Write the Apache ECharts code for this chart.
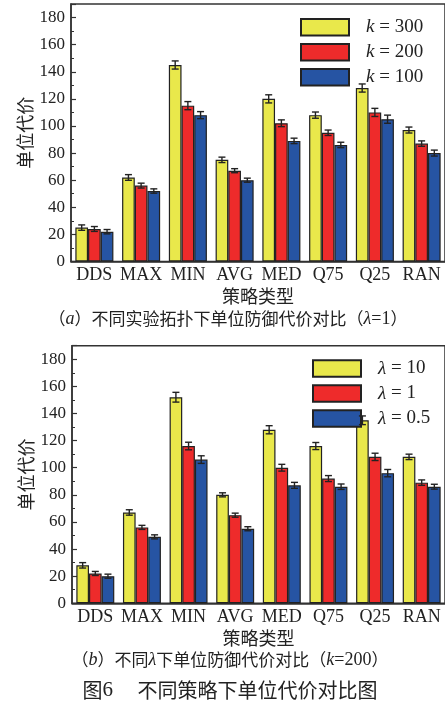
<!DOCTYPE html>
<html><head><meta charset="utf-8">
<script src="https://cdn.jsdelivr.net/npm/echarts@6/dist/echarts.min.js"></script>
<style>html,body{margin:0;padding:0;background:#fff}#c{width:445px;height:703px}</style>
</head><body><div id="c"></div>
<script>
const categories = ['DDS','MAX','MIN','AVG','MED','Q75','Q25','RAN'];
// chart (a): k values
const k300 = [25,62,145,75,120,108,128,97];
const k200 = [24,56,115,67,102,95,110,87];
const k100 = [22,52,108,60,89,86,105,80];
const k300Err = [2,2.1,3,2,3,2.3,3,2.2];
const k200Err = [1.8,1.8,3,1.5,2.5,2,3,2];
const k100Err = [1.6,1.6,2.6,1.5,2,2,3,2.2];
// chart (b): lambda values
const lam10 = [28,67,152,80,128,116,135,108];
const lam1 = [22,56,116,65,100,92,108,89];
const lam05 = [20,49,106,55,87,86,96,86];
const lam10Err = [2,2,3.6,1.5,3,2.6,3.2,2];
const lam1Err = [1.5,1.5,2.8,1.5,2.5,2.2,2.7,2];
const lam05Err = [1.5,1.5,2.8,1.5,2.2,2,2.7,1.8];
const yTicks = [0,20,40,60,80,100,120,140,160,180];

const COLORS = ['#E9E84B','#EE2B2B','#2654A3'];
const SERIF = '"Liberation Serif","Times New Roman",serif';
const CJK = '"Noto Sans CJK SC",sans-serif';
const GAP = 0.186;

const chart = echarts.init(document.getElementById('c'));

function yAxis(gi){
  return {
    type:'value', gridIndex:gi, min:0, max:190, interval:20,
    name:'单位代价', nameLocation:'middle', nameGap:37, nameMoveOverlap:false,
    nameTextStyle:{fontFamily:CJK, fontSize:18, color:'#222'},
    axisLine:{show:true, lineStyle:{color:'#333', width:1.5}},
    axisTick:{show:true, inside:true, length:5, lineStyle:{color:'#333', width:1.2}},
    minorTick:{show:true, splitNumber:2, length:3, lineStyle:{color:'#333', width:1}},
    splitLine:{show:false},
    axisLabel:{fontFamily:SERIF, fontSize:17, color:'#222', margin:6, showMaxLabel:false,
      formatter:v=> yTicks.includes(v) ? String(v) : ''}
  };
}
function xAxis(gi){
  return {
    type:'category', gridIndex:gi, data:categories,
    name:'策略类型', nameLocation:'middle', nameGap:26, nameMoveOverlap:false,
    nameTextStyle:{fontFamily:CJK, fontSize:18, color:'#222'},
    axisLine:{show:true, lineStyle:{color:'#333', width:1.5}},
    axisTick:{show:false},
    axisLabel:{fontFamily:SERIF, fontSize:18, color:'#222', margin:5, interval:0}
  };
}
function barSeries(name, data, ci, gi){
  return {
    type:'bar', name, data, xAxisIndex:gi, yAxisIndex:gi,
    barGap:'0%', barCategoryGap:(GAP*100)+'%',
    itemStyle:{color:COLORS[ci], borderColor:'#222', borderWidth:1.2},
    emphasis:{disabled:true}, animation:false
  };
}
function errSeries(vals, errs, si, gi){
  return {
    type:'custom', xAxisIndex:gi, yAxisIndex:gi, animation:false, silent:true, z:5,
    data: vals.map((v,i)=>[i, v, errs[i]]),
    renderItem:(params, api)=>{
      const x = api.value(0), v = api.value(1), e = api.value(2);
      const band = api.size([1,0])[0];
      const groupW = band*(1-GAP);
      const barW = groupW/3;
      const cx = api.coord([x, v])[0] - groupW/2 + barW*(si+0.5);
      const yt = api.coord([x, v+e])[1];
      const yb = api.coord([x, v-e])[1];
      const cw = 3.5;
      const st = {stroke:'#222', lineWidth:1.4};
      return {type:'group', children:[
        {type:'line', shape:{x1:cx, y1:yt, x2:cx, y2:yb}, style:st},
        {type:'line', shape:{x1:cx-cw, y1:yt, x2:cx+cw, y2:yt}, style:st},
        {type:'line', shape:{x1:cx-cw, y1:yb, x2:cx+cw, y2:yb}, style:st}
      ]};
    }
  };
}
function legendFmt(sym, rest){
  return '{sp|}{i|'+sym+'}{t| = '+rest+'}';
}
const legendRich = {
  sp:{width:12},
  i:{fontFamily:SERIF, fontStyle:'italic', fontSize:19, color:'#222', lineHeight:16},
  t:{fontFamily:SERIF, fontSize:19, color:'#222', lineHeight:16}
};

const option = {
  animation:false,
  grid:[
    {left:71, top:4, width:376, height:257.5, show:true, borderColor:'#333', borderWidth:1.5, backgroundColor:'transparent'},
    {left:72, top:345.7, width:376, height:257.6, show:true, borderColor:'#333', borderWidth:1.5, backgroundColor:'transparent'}
  ],
  xAxis:[xAxis(0), xAxis(1)],
  yAxis:[yAxis(0), yAxis(1)],
  legend:[
    {data:['k = 300','k = 200','k = 100'], orient:'vertical', left:295, top:12.7,
     itemWidth:48, itemHeight:16.6, itemGap:6, icon:'rect', selectedMode:false,
     formatter:n=>legendFmt('k', n.split(' = ')[1]), textStyle:{rich:legendRich}},
    {data:['λ = 10','λ = 1','λ = 0.5'], orient:'vertical', left:307, top:354,
     itemWidth:48, itemHeight:16.6, itemGap:6, icon:'rect', selectedMode:false,
     formatter:n=>legendFmt('λ', n.split(' = ')[1]), textStyle:{rich:legendRich}}
  ],
  series:[
    barSeries('k = 300', k300, 0, 0),
    barSeries('k = 200', k200, 1, 0),
    barSeries('k = 100', k100, 2, 0),
    barSeries('λ = 10', lam10, 0, 1),
    barSeries('λ = 1', lam1, 1, 1),
    barSeries('λ = 0.5', lam05, 2, 1),
    errSeries(k300, k300Err, 0, 0),
    errSeries(k200, k200Err, 1, 0),
    errSeries(k100, k100Err, 2, 0),
    errSeries(lam10, lam10Err, 0, 1),
    errSeries(lam1, lam1Err, 1, 1),
    errSeries(lam05, lam05Err, 2, 1)
  ],
  graphic:[
    {type:'text', x:228, y:319, style:{
      text:'（{i|a}）不同实验拓扑下单位防御代价对比（{s|λ}{t|=1}）',
      align:'center', verticalAlign:'middle', fill:'#222', font:'17px '+CJK,
      rich:{i:{fontFamily:SERIF, fontStyle:'italic', fontSize:18, fill:'#222'},
            s:{fontFamily:SERIF, fontStyle:'italic', fontSize:18, fill:'#222'},
            t:{fontFamily:SERIF, fontSize:18, fill:'#222'}}}},
    {type:'text', x:230, y:660, style:{
      text:'（{i|b}）不同{s|λ}下单位防御代价对比（{i|k}{t|=200}）',
      align:'center', verticalAlign:'middle', fill:'#222', font:'17px '+CJK,
      rich:{i:{fontFamily:SERIF, fontStyle:'italic', fontSize:18, fill:'#222'},
            s:{fontFamily:SERIF, fontStyle:'italic', fontSize:18, fill:'#222'},
            t:{fontFamily:SERIF, fontSize:18, fill:'#222'}}}},
    {type:'text', x:230, y:690, style:{
      text:'图{n|6}　 不同策略下单位代价对比图',
      align:'center', verticalAlign:'middle', fill:'#222', font:'20px '+CJK,
      rich:{n:{fontFamily:SERIF, fontSize:21, fill:'#222'}}}}
  ]
};
chart.setOption(option);
</script></body></html>
